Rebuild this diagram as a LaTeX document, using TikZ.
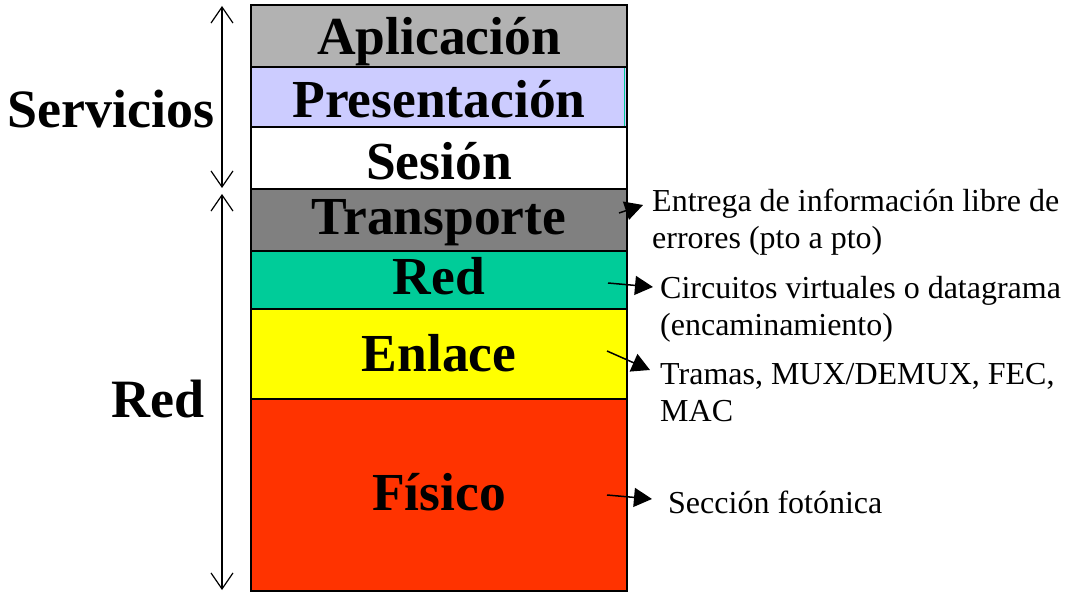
\documentclass[tikz,border=0pt]{standalone}
\usepackage{fontspec}
\setmainfont{Liberation Serif}
\usetikzlibrary{positioning,arrows.meta}
\definecolor{apgray}{HTML}{B2B2B2}
\definecolor{prlilac}{HTML}{CCCCFF}
\definecolor{trgray}{HTML}{808080}
\definecolor{rdteal}{HTML}{00CC99}
\definecolor{enyellow}{HTML}{FFFF00}
\definecolor{fired}{HTML}{FF3300}
\tikzstyle{layer} = [rectangle, minimum width=376pt, inner sep=0pt, outer sep=0pt, draw=black, line width=1.5pt, text height=36pt, text depth=6pt, font=\fontsize{53.5}{60}\selectfont\bfseries]
\tikzstyle{group} = [inner sep=0pt, anchor=base west, font=\fontsize{54}{60}\selectfont\bfseries]
\tikzstyle{desc} = [inner sep=0pt, anchor=base west, align=left, font=\fontsize{32}{36.5}\selectfont]
\tikzstyle{spanarrow} = [{Straight Barb[length=16pt,width=22pt]}-{Straight Barb[length=16pt,width=22pt]}, line width=1.2pt]
\tikzstyle{arrow} = [-{Triangle[length=18pt,width=19pt]}, line width=1.5pt]

\begin{document}
\begin{tikzpicture}
\useasboundingbox (0pt,0pt) rectangle (1066pt,-593pt);

\node(app)[layer,fill=apgray,minimum height=62pt,text height=44pt] at (439pt,-36pt) {Aplicación};
\node(pres)[layer,fill=prlilac,minimum height=60pt,text height=48pt,below=0pt of app]{Presentación};
\node(ses)[layer,fill=white,minimum height=62pt,text height=50pt,below=0pt of pres]{Sesión};
\node(trans)[layer,fill=trgray,minimum height=62pt,below=0pt of ses]{Transporte};
\node(red)[layer,fill=rdteal,minimum height=58pt,below=0pt of trans]{Red};
\node(enl)[layer,fill=enyellow,minimum height=90pt,text height=42pt,below=0pt of red]{Enlace};
\node(fis)[layer,fill=fired,minimum height=192pt,below=0pt of enl]{Físico};
\draw[rdteal,line width=1.5pt] ([xshift=-2.5pt,yshift=-1pt]pres.north east) -- ([xshift=-2.5pt,yshift=1pt]pres.south east);

\node(serv)[group] at (7pt,-128pt) {Servicios};
\node(rednet)[group] at (111pt,-418pt) {Red};

\coordinate (servtop) at (222pt,-6pt);
\coordinate (servbot) at (222pt,-188pt);
\coordinate (redtop) at (222pt,-194pt);
\coordinate (redbot) at (222pt,-590pt);
\draw[spanarrow] (servtop) -- (servbot);
\draw[spanarrow] (redtop) -- (redbot);

% base of a two-line node is its last line
\node(ent)[desc] at (652pt,-248.5pt) {Entrega de información libre de\\errores (pto a pto)};
\node(circ)[desc] at (660pt,-335.5pt) {Circuitos virtuales o datagrama\\(encaminamiento)};
\node(tram)[desc] at (660pt,-421.5pt) {Tramas, MUX/DEMUX, FEC,\\MAC};
\node(secc)[desc] at (668pt,-513pt) {Sección fotónica};

\coordinate (trans_a) at (619pt,-213pt);
\coordinate (trans_b) at (643pt,-205pt);
\coordinate (red_a) at (608pt,-283pt);
\coordinate (red_b) at (653pt,-287pt);
\coordinate (enl_a) at (607pt,-351pt);
\coordinate (enl_b) at (650pt,-370pt);
\coordinate (fis_a) at (607pt,-495pt);
\coordinate (fis_b) at (652pt,-499pt);
\draw[arrow] (trans_a) -- (trans_b);
\draw[arrow] (red_a) -- (red_b);
\draw[arrow] (enl_a) -- (enl_b);
\draw[arrow] (fis_a) -- (fis_b);

\end{tikzpicture}
\end{document}
